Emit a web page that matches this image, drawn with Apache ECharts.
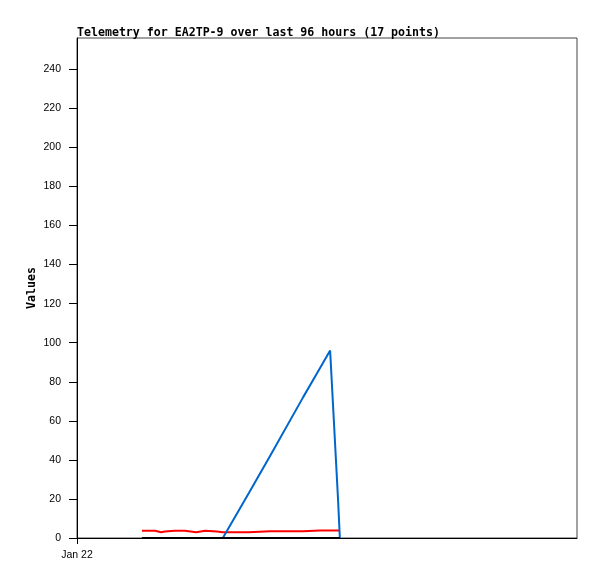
<!DOCTYPE html>
<html>
<head>
<meta charset="utf-8">
<script src="https://cdn.jsdelivr.net/npm/echarts@6/dist/echarts.min.js"></script>
<style>html,body{margin:0;padding:0;background:#fff}#c{width:597px;height:579px}</style>
</head>
<body>
<div id="c"></div>
<script>
var titleText = 'Telemetry for EA2TP-9 over last 96 hours (17 points)';
var axisStart = '2024-01-22T00:00:00';
var axisEnd = '2024-01-23T00:00:00';
var times = ['2024-01-22T03:07:00','2024-01-22T03:45:00','2024-01-22T04:02:00','2024-01-22T04:13:00','2024-01-22T04:42:00',
  '2024-01-22T05:11:00','2024-01-22T05:43:00','2024-01-22T06:09:00','2024-01-22T06:43:00','2024-01-22T07:00:00',
  '2024-01-22T08:15:00','2024-01-22T09:16:00','2024-01-22T10:51:00','2024-01-22T11:40:00','2024-01-22T12:09:00',
  '2024-01-22T12:32:00','2024-01-22T12:37:00'];
var redValues   = [3.7, 2.9, 3.3, 3.7, 3.7, 2.9, 3.7, 3.3, 2.9, 2.9, 3.4, 3.4, 3.9, 3.9, 3.9, 3.9, null];
var blueValues  = [0, 0, 0, 0, 0, 0, 0, 0, 0, 0, 23, 42, 72, 87, 96, 19, 0];
var blackValues = [0, 0, 0, 0, 0, 0, 0, 0, 0, 0, 0, 0, 0, 0, 0, 0, 0];
var yTicks = [0, 20, 40, 60, 80, 100, 120, 140, 160, 180, 200, 220, 240];
var xLabel = 'Jan 22';

var t0 = Date.parse(axisStart);
var t1 = Date.parse(axisEnd);
function pairs(vals) { return times.map(function (t, i) { return [Date.parse(t), vals[i]]; }); }

var chart = echarts.init(document.getElementById('c'), null, {renderer: 'canvas'});
chart.setOption({
  animation: false,
  backgroundColor: '#fff',
  title: {
    text: titleText, left: 72, top: 22,
    textStyle: {fontFamily: 'DejaVu Sans Mono', fontWeight: 'bold', fontSize: 11.6, color: '#000'}
  },
  grid: {left: 77, right: 20, top: 38, bottom: 41, show: true, borderColor: '#444', borderWidth: 1},
  xAxis: {
    type: 'value', min: t0, max: t1,
    axisLine: {lineStyle: {color: '#000', width: 1}},
    axisTick: {show: true, length: 6, lineStyle: {color: '#000'}, customValues: [t0]},
    axisLabel: {customValues: [t0], formatter: function () { return xLabel; },
      fontFamily: 'Liberation Sans', fontSize: 10.5, color: '#000', margin: 12},
    splitLine: {show: false}
  },
  yAxis: {
    type: 'value', min: 0, max: 256, interval: 20,
    name: 'Values', nameLocation: 'middle', nameGap: 39, nameMoveOverlap: false,
    nameTextStyle: {fontFamily: 'DejaVu Sans Mono', fontWeight: 'bold', fontSize: 11.6, color: '#000'},
    axisLine: {show: true, lineStyle: {color: '#000', width: 1}},
    axisTick: {show: true, length: 8, lineStyle: {color: '#000'}, customValues: yTicks},
    axisLabel: {customValues: yTicks, fontFamily: 'Liberation Sans', fontSize: 10.5, color: '#000', margin: 16},
    splitLine: {show: false}
  },
  series: [
    {type: 'line', data: pairs(redValues), step: 'end', showSymbol: false, symbol: 'none',
      lineStyle: {color: '#ff0000', width: 2}, itemStyle: {color: '#ff0000'}},
    {type: 'line', data: pairs(blueValues), showSymbol: false, symbol: 'none',
      lineStyle: {color: '#0066cc', width: 2}, itemStyle: {color: '#0066cc'}},
    {type: 'line', data: pairs(blackValues), showSymbol: false, symbol: 'none',
      lineStyle: {color: '#000', width: 2}, itemStyle: {color: '#000'}}
  ]
});
</script>
</body>
</html>
